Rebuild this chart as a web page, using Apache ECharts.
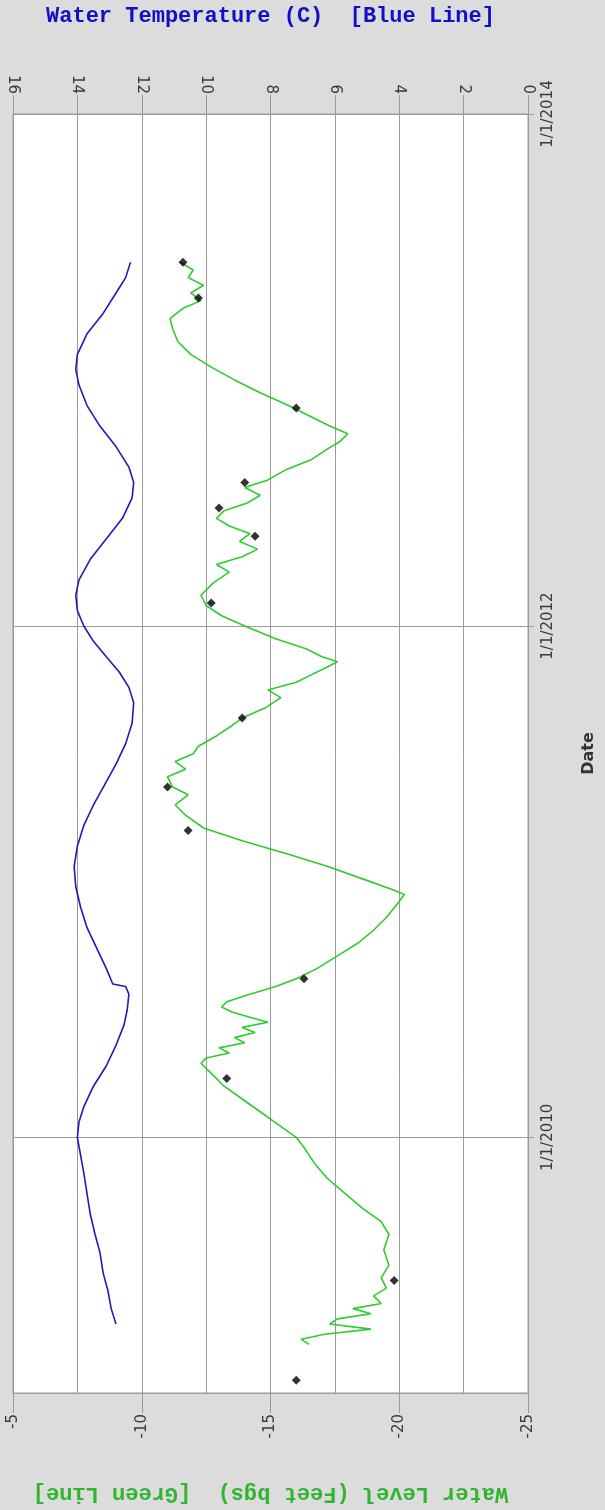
<!DOCTYPE html>
<html>
<head>
<meta charset="utf-8">
<script src="https://cdn.jsdelivr.net/npm/echarts@6/dist/echarts.min.js"></script>
<style>
  html, body { margin: 0; padding: 0; background: #dcdcdc; }
  #chart { width: 605px; height: 1510px; }
</style>
</head>
<body>
<div id="chart"></div>
<script>
// Logger water level (feet below ground surface), dates as decimal years
const levelYears = [
  2009.19, 2009.21, 2009.23, 2009.25, 2009.27, 2009.29, 2009.31, 2009.33, 2009.35, 2009.38,
  2009.41, 2009.45, 2009.50, 2009.56, 2009.62, 2009.67, 2009.72, 2009.78, 2009.84, 2009.90,
  2009.96, 2010.00, 2010.05, 2010.10, 2010.15, 2010.20, 2010.25, 2010.29, 2010.31, 2010.33,
  2010.35, 2010.37, 2010.39, 2010.41, 2010.43, 2010.45, 2010.47, 2010.49, 2010.51, 2010.53,
  2010.56, 2010.59, 2010.62, 2010.66, 2010.71, 2010.76, 2010.81, 2010.86, 2010.91, 2010.95,
  2010.97, 2011.01, 2011.06, 2011.11, 2011.16, 2011.21, 2011.26, 2011.30, 2011.34, 2011.37,
  2011.41, 2011.44, 2011.47, 2011.50, 2011.53, 2011.57, 2011.61, 2011.64, 2011.68, 2011.72,
  2011.75, 2011.78, 2011.81, 2011.84, 2011.86, 2011.88, 2011.91, 2011.95, 2012.00, 2012.04,
  2012.08, 2012.12, 2012.17, 2012.21, 2012.24, 2012.27, 2012.30, 2012.33, 2012.36, 2012.39,
  2012.42, 2012.45, 2012.48, 2012.51, 2012.54, 2012.57, 2012.61, 2012.65, 2012.69, 2012.72,
  2012.75, 2012.78, 2012.82, 2012.86, 2012.91, 2012.96, 2013.01, 2013.06, 2013.11, 2013.16,
  2013.20, 2013.24, 2013.27, 2013.30, 2013.33, 2013.36, 2013.39, 2013.42
];
const levelFeet = [
  -16.5, -16.2, -17.1, -18.9, -17.3, -17.6, -18.9, -18.2, -19.3, -19.0,
  -19.5, -19.3, -19.6, -19.4, -19.6, -19.3, -18.6, -17.9, -17.2, -16.7,
  -16.3, -16.0, -15.3, -14.6, -13.9, -13.2, -12.7, -12.3, -12.5, -13.4,
  -13.0, -14.0, -13.6, -14.4, -13.9, -14.9, -14.2, -13.5, -13.1, -13.3,
  -14.2, -15.2, -16.0, -16.8, -17.6, -18.4, -19.0, -19.5, -19.9, -20.2,
  -19.7, -18.6, -17.2, -15.6, -13.9, -12.4, -11.7, -11.3, -11.8, -11.2,
  -11.0, -11.7, -11.3, -12.0, -12.2, -12.9, -13.5, -13.9, -14.8, -15.4,
  -14.9, -16.0, -16.6, -17.2, -17.6, -17.0, -16.4, -15.2, -14.0, -13.1,
  -12.5, -12.3, -12.8, -13.4, -12.9, -13.9, -14.5, -13.8, -14.2, -13.4,
  -12.9, -13.2, -14.1, -14.6, -14.0, -14.9, -15.6, -16.6, -17.2, -17.7,
  -18.0, -17.3, -16.5, -15.7, -14.6, -13.6, -12.7, -11.9, -11.4, -11.2,
  -11.1, -11.6, -12.3, -11.9, -12.4, -11.8, -12.0, -11.5
];

// Hand measurements (black diamonds)
const manualYears = [2009.05, 2009.44, 2010.23, 2010.62, 2011.20, 2011.37, 2011.64,
                     2012.09, 2012.35, 2012.46, 2012.56, 2012.85, 2013.28, 2013.42];
const manualFeet  = [-16.0, -19.8, -13.3, -16.3, -11.8, -11.0, -13.9,
                     -12.7, -14.4, -13.0, -14.0, -16.0, -12.2, -11.6];

// Logger water temperature (C)
const tempYears = [
  2009.27, 2009.33, 2009.40, 2009.47, 2009.55, 2009.62, 2009.70, 2009.78, 2009.86, 2009.93,
  2010.00, 2010.06, 2010.12, 2010.20, 2010.28, 2010.36, 2010.44, 2010.50, 2010.56, 2010.59,
  2010.60, 2010.66, 2010.74, 2010.82, 2010.90, 2010.98, 2011.06, 2011.14, 2011.22, 2011.30,
  2011.38, 2011.46, 2011.54, 2011.62, 2011.70, 2011.76, 2011.82, 2011.88, 2011.94, 2012.00,
  2012.06, 2012.12, 2012.18, 2012.26, 2012.34, 2012.42, 2012.50, 2012.56, 2012.62, 2012.70,
  2012.78, 2012.86, 2012.94, 2013.00, 2013.06, 2013.14, 2013.22, 2013.30, 2013.36, 2013.42
];
const tempC = [
  12.8, 12.95, 13.05, 13.2, 13.3, 13.45, 13.6, 13.7, 13.8, 13.9,
  14.0, 13.95, 13.8, 13.5, 13.1, 12.8, 12.55, 12.45, 12.4, 12.5,
  12.9, 13.1, 13.4, 13.7, 13.9, 14.05, 14.1, 14.0, 13.8, 13.5,
  13.15, 12.8, 12.5, 12.3, 12.25, 12.4, 12.7, 13.1, 13.5, 13.8,
  14.0, 14.05, 13.95, 13.6, 13.1, 12.6, 12.3, 12.25, 12.4, 12.8,
  13.3, 13.7, 13.95, 14.05, 14.0, 13.7, 13.2, 12.8, 12.5, 12.35
];

// Date axis: labelled every two years
const dateStart = 2009;
const dateEnd = 2014;
const dateTickYears = [2010, 2012, 2014];

function yearToTime(y) {
  const yr = Math.floor(y);
  const a = Date.UTC(yr, 0, 1);
  const b = Date.UTC(yr + 1, 0, 1);
  return a + (y - yr) * (b - a);
}
function pairs(values, years) {
  return values.map((v, i) => [v, yearToTime(years[i])]);
}

const gridGray = '#9a9a9a';
const tickFont = { fontFamily: 'DejaVu Sans', fontSize: 15, color: '#3a3a3a' };

const chart = echarts.init(document.getElementById('chart'), null, { renderer: 'canvas' });
chart.setOption({
  backgroundColor: '#dcdcdc',
  animation: false,
  grid: {
    left: 13, right: 61, top: 109, bottom: 109,
    show: true, backgroundColor: '#ffffff', borderColor: gridGray, borderWidth: 1
  },
  xAxis: [
    {
      type: 'value', position: 'bottom', min: -25, max: -5, interval: 5, inverse: true,
      name: 'Water Level (Feet bgs)  [Green Line]',
      nameLocation: 'middle', nameGap: 90, nameRotate: 180,
      nameTextStyle: { fontFamily: 'Liberation Mono', fontWeight: 'bold', fontSize: 22, color: '#2fb52f' },
      axisLine: { show: true, lineStyle: { color: gridGray } },
      axisTick: { show: true, length: 20, lineStyle: { color: gridGray } },
      axisLabel: Object.assign({ rotate: 90, margin: 21 }, tickFont),
      splitLine: { show: false }
    },
    {
      type: 'value', position: 'top', min: 0, max: 16, interval: 2, inverse: true,
      name: 'Water Temperature (C)  [Blue Line]',
      nameLocation: 'middle', nameGap: 87, nameRotate: 0,
      nameTextStyle: { fontFamily: 'Liberation Mono', fontWeight: 'bold', fontSize: 22, color: '#1010c8' },
      axisLine: { show: true, lineStyle: { color: gridGray } },
      axisTick: { show: true, length: 19, lineStyle: { color: gridGray } },
      axisLabel: Object.assign({ rotate: 90, margin: 20 }, tickFont),
      splitLine: { show: true, lineStyle: { color: gridGray, width: 1 } }
    }
  ],
  yAxis: {
    type: 'value', position: 'right',
    min: yearToTime(dateStart), max: yearToTime(dateEnd),
    name: 'Date', nameLocation: 'middle', nameGap: 53, nameRotate: 90,
    nameTextStyle: { fontFamily: 'DejaVu Sans', fontWeight: 'bold', fontSize: 16, color: '#333' },
    axisLine: { show: true, lineStyle: { color: gridGray } },
    axisTick: { show: true, length: 6, lineStyle: { color: gridGray },
                customValues: dateTickYears.map(yearToTime) },
    axisLabel: Object.assign({
      rotate: 90, margin: 13,
      customValues: dateTickYears.map(yearToTime),
      formatter: v => '1/1/' + new Date(v).getUTCFullYear()
    }, tickFont),
    splitLine: { show: true, lineStyle: { color: gridGray, width: 1 } }
  },
  series: [
    {
      name: 'Water Temperature', type: 'line', xAxisIndex: 1, yAxisIndex: 0,
      data: pairs(tempC, tempYears), showSymbol: false, symbol: 'none',
      lineStyle: { color: '#1c1cb4', width: 1.6 }, z: 3
    },
    {
      name: 'Water Level', type: 'line', xAxisIndex: 0, yAxisIndex: 0,
      data: pairs(levelFeet, levelYears), showSymbol: false, symbol: 'none',
      lineStyle: { color: '#2ecc2e', width: 1.6 }, z: 3
    },
    {
      name: 'Manual Measurement', type: 'scatter', xAxisIndex: 0, yAxisIndex: 0,
      data: pairs(manualFeet, manualYears), symbol: 'diamond', symbolSize: 9,
      itemStyle: { color: '#000' }, z: 4
    }
  ]
});
</script>
</body>
</html>
